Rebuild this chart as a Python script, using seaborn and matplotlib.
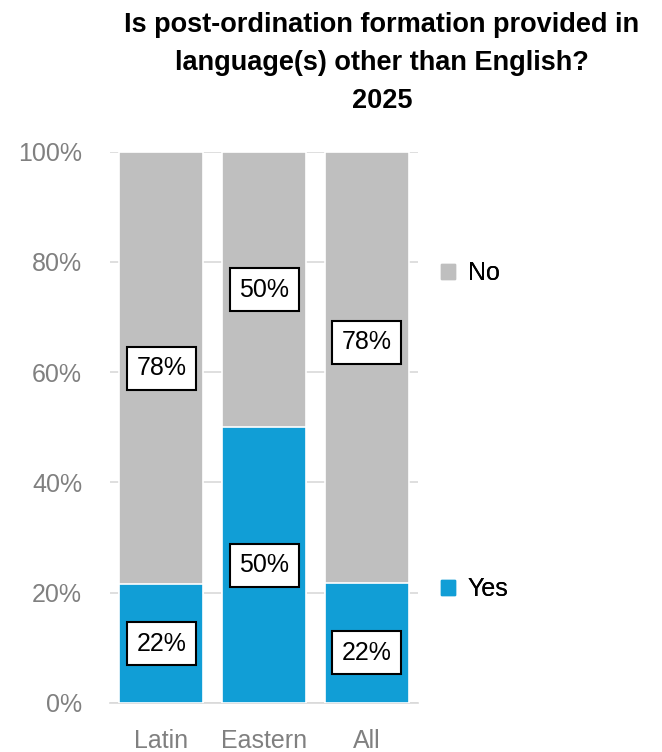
import matplotlib
matplotlib.use("Agg")
import matplotlib.pyplot as plt
import matplotlib.patches as mpatches
import seaborn as sns
import pandas as pd

# data
categories = ["Latin", "Eastern", "All"]
yes_pct = [21.5, 50.0, 21.8]
no_pct = [78.5, 50.0, 78.2]
yes_labels = ["22%", "50%", "22%"]
no_labels = ["78%", "50%", "78%"]
# manual nudges of the "All" labels, as in the source chart
yes_nudge = [0, 0, -1.8]
no_nudge = [0, 0, 4.5]

blue = "#119ED6"
grey = "#BFBFBF"

sns.set_theme(style="white")
plt.rcParams["font.family"] = ["Liberation Sans", "DejaVu Sans"]

df = pd.DataFrame({"cat": categories, "yes": yes_pct,
                   "total": [y + n for y, n in zip(yes_pct, no_pct)]})

fig = plt.figure(figsize=(6.62, 7.52), dpi=100)
ax = fig.add_axes([110 / 662, 0.0652, 308 / 662, 0.733])

sns.barplot(data=df, x="cat", y="total", order=categories, color=grey, saturation=1,
            width=0.815, edgecolor="white", linewidth=1.2, ax=ax, zorder=2)
sns.barplot(data=df, x="cat", y="yes", order=categories, color=blue, saturation=1,
            width=0.815, edgecolor="white", linewidth=1.2, ax=ax, zorder=3)

box = dict(boxstyle="square,pad=0.38", fc="white", ec="black", lw=1.5)
for i in range(len(categories)):
    ax.text(i, yes_pct[i] / 2 + yes_nudge[i], yes_labels[i], ha="center", va="center",
            fontsize=18, color="black", bbox=box, zorder=5)
    ax.text(i, yes_pct[i] + no_pct[i] / 2 + no_nudge[i], no_labels[i], ha="center",
            va="center", fontsize=18, color="black", bbox=box, zorder=5)

ax.set_ylim(0, 100)
ax.set_xlim(-0.5, 2.5)
ax.set_yticks([0, 20, 40, 60, 80, 100])
ax.set_yticklabels([f"{v}%" for v in [0, 20, 40, 60, 80, 100]])
ax.yaxis.grid(True, color="#D9D9D9", linewidth=1.2, zorder=0)
ax.set_axisbelow(True)
ax.set_xlabel("")
ax.set_ylabel("")

for s in ["top", "right", "left"]:
    ax.spines[s].set_visible(False)
ax.spines["bottom"].set_color("#D9D9D9")
ax.spines["bottom"].set_linewidth(1.2)

ax.tick_params(axis="y", length=0, pad=20, labelsize=18, labelcolor="#808080")
ax.tick_params(axis="x", which="major", length=0, pad=19, labelsize=18, labelcolor="#808080")
ax.set_xticks([-0.5, 0.5, 1.5, 2.5], minor=True)
ax.tick_params(axis="x", which="minor", length=7, width=1.2, color="#D9D9D9", direction="out")

# legend entries sit beside their segments
for lab, col, yfrac in [("No", grey, 1 - 273 / 752), ("Yes", blue, 1 - 589 / 752)]:
    h = mpatches.Patch(color=col, label=lab)
    leg = fig.legend(handles=[h], loc="center left", bbox_to_anchor=(0.648, yfrac),
                     frameon=False, fontsize=18, handlelength=0.55, handleheight=0.55,
                     handletextpad=0.5, borderpad=0, labelcolor="black")
    fig.add_artist(leg)

fig.text(0.577, 0.984, "Is post-ordination formation provided in\nlanguage(s) other than English?\n2025",
         ha="center", va="top", fontsize=19.5, fontweight="bold", color="black",
         linespacing=1.6)

fig.savefig("out.png", dpi=100)
